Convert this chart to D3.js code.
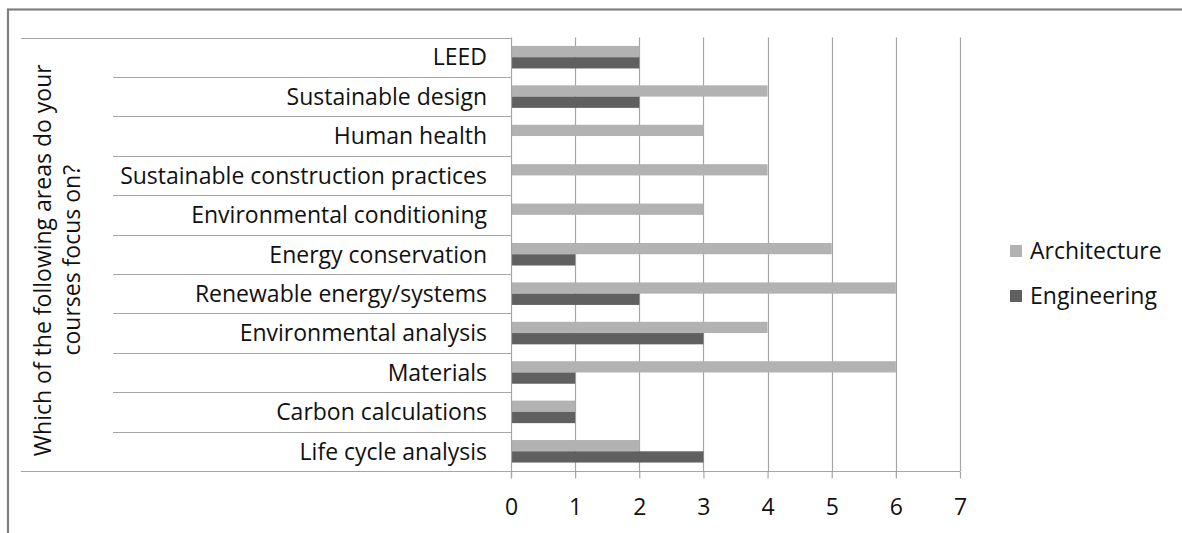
<!DOCTYPE html>
<html>
<head>
<meta charset="utf-8">
<script src="https://cdn.jsdelivr.net/npm/d3@7"></script>
<style>
  html, body { margin: 0; padding: 0; background: #fff; }
  svg { display: block; }
  text { font-family: "Open Sans", "Noto Sans", sans-serif; fill: #111; }
</style>
</head>
<body>
<svg id="chart" width="1182" height="533"></svg>
<script>
// Course focus areas, listed top to bottom
const categories = [
  "LEED",
  "Sustainable design",
  "Human health",
  "Sustainable construction practices",
  "Environmental conditioning",
  "Energy conservation",
  "Renewable energy/systems",
  "Environmental analysis",
  "Materials",
  "Carbon calculations",
  "Life cycle analysis"
];
const seriesNames = ["Architecture", "Engineering"];
const architecture = [2, 4, 3, 4, 3, 5, 6, 4, 6, 1, 2];
const engineering  = [2, 2, 0, 0, 0, 1, 2, 3, 1, 1, 3];
const xTicks = [0, 1, 2, 3, 4, 5, 6, 7];
const groupTitle = ["Which of the following areas do your", "courses focus on?"];

const colors = { Architecture: "#b2b2b2", Engineering: "#606060" };
const lineColor = "#a6a6a6";
const fontSize = 23;

const svg = d3.select("#chart");

// outer chart frame (runs past the right and bottom edges)
svg.append("rect")
  .attr("x", 8).attr("y", 9.5)
  .attr("width", 1300).attr("height", 700)
  .attr("fill", "none")
  .attr("stroke", "#808080")
  .attr("stroke-width", 2.2);

const plot = { left: 511, right: 960, top: 37.5, bottom: 471 };

const x = d3.scaleLinear().domain([0, 7]).range([plot.left, plot.right]);
const y = d3.scaleBand().domain(categories).range([plot.top, plot.bottom]);
// two bars per category with a 150% gap between groups
const barH = y.bandwidth() / 3.5;
const inner = d3.scaleBand().domain(seriesNames)
  .range([y.bandwidth() / 2 - barH, y.bandwidth() / 2 + barH]);

// vertical gridlines
svg.append("g")
  .selectAll("line")
  .data(xTicks.slice(1))
  .join("line")
  .attr("x1", d => Math.round(x(d)) + 0.5)
  .attr("x2", d => Math.round(x(d)) + 0.5)
  .attr("y1", plot.top)
  .attr("y2", plot.bottom)
  .attr("stroke", lineColor)
  .attr("stroke-width", 1.2);

// bars
const rows = categories.map((c, i) => ({
  category: c,
  values: [
    { series: "Architecture", value: architecture[i] },
    { series: "Engineering", value: engineering[i] }
  ]
}));

const rowG = svg.append("g")
  .selectAll("g")
  .data(rows)
  .join("g")
  .attr("transform", d => `translate(0,${y(d.category)})`);

rowG.selectAll("rect")
  .data(d => d.values.filter(v => v.value > 0))
  .join("rect")
  .attr("x", x(0))
  .attr("y", d => inner(d.series))
  .attr("width", d => x(d.value) - x(0))
  .attr("height", inner.bandwidth())
  .attr("fill", d => colors[d.series]);

// category axis with label box lines
const catAxis = svg.append("g");
catAxis.append("line")
  .attr("x1", plot.left + 0.5).attr("x2", plot.left + 0.5)
  .attr("y1", plot.top).attr("y2", plot.bottom + 7)
  .attr("stroke", lineColor).attr("stroke-width", 1.2);

const bounds = d3.range(categories.length + 1).map(i => plot.top + i * y.step());
catAxis.selectAll("line.sep")
  .data(bounds)
  .join("line")
  .attr("class", "sep")
  .attr("x1", (d, i) => (i === 0 || i === categories.length) ? 21 : 113)
  .attr("x2", (d, i) => i === categories.length ? plot.right : plot.left)
  .attr("y1", d => Math.round(d) + 0.5)
  .attr("y2", d => Math.round(d) + 0.5)
  .attr("stroke", lineColor)
  .attr("stroke-width", 1.2);

catAxis.selectAll("text")
  .data(categories)
  .join("text")
  .attr("x", 487)
  .attr("y", d => y(d) + y.bandwidth() / 2)
  .attr("dy", "0.36em")
  .attr("text-anchor", "end")
  .style("font-size", fontSize + "px")
  .text(d => d);

// value axis
const valAxis = d3.axisBottom(x)
  .tickValues(xTicks)
  .tickSize(7)
  .tickPadding(20)
  .tickFormat(d3.format("d"));

const va = svg.append("g")
  .attr("transform", `translate(0,${Math.round(plot.bottom) + 0.5})`)
  .call(valAxis);
va.select(".domain").remove();
va.selectAll(".tick line").attr("stroke", lineColor).attr("stroke-width", 1.2);
va.selectAll(".tick text")
  .style("font-size", fontSize + "px")
  .style("font-family", "'Open Sans', sans-serif")
  .attr("fill", "#111");

// rotated group title
const midY = (plot.top + plot.bottom) / 2 + 6;
const titleX = [51, 80];
svg.append("g")
  .selectAll("text")
  .data(groupTitle)
  .join("text")
  .attr("transform", (d, i) => `translate(${titleX[i]},${midY}) rotate(-90)`)
  .attr("text-anchor", "middle")
  .style("font-size", fontSize + "px")
  .text(d => d);

// legend
const legend = svg.append("g")
  .selectAll("g")
  .data(seriesNames)
  .join("g")
  .attr("transform", (d, i) => `translate(1010,${251 + i * 45})`);
legend.append("rect")
  .attr("x", 0).attr("y", -6)
  .attr("width", 12).attr("height", 12)
  .attr("fill", d => colors[d]);
legend.append("text")
  .attr("x", 20)
  .attr("dy", "0.36em")
  .style("font-size", fontSize + "px")
  .text(d => d);
</script>
</body>
</html>
